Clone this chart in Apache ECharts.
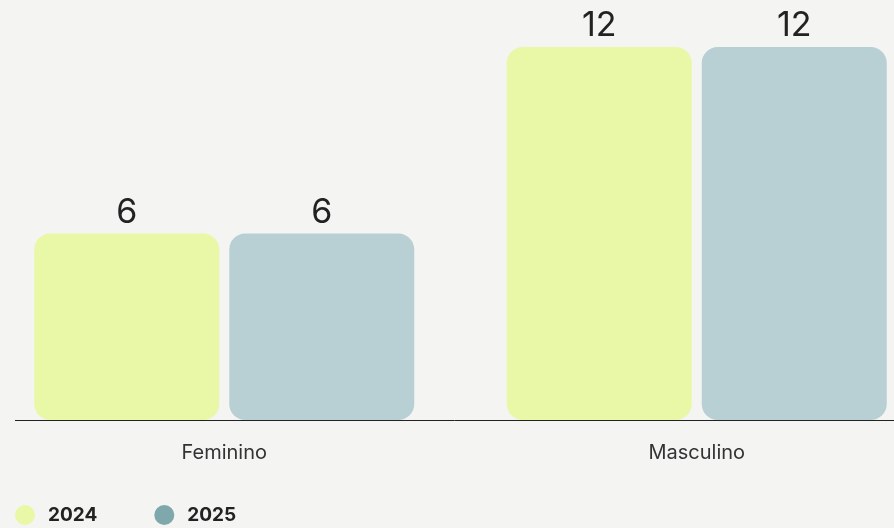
<!DOCTYPE html>
<html>
<head>
<meta charset="utf-8">
<script src="https://cdn.jsdelivr.net/npm/echarts@6/dist/echarts.min.js"></script>
<style>
  html, body { margin: 0; padding: 0; background: #f4f4f3; }
  #chart { width: 894px; height: 528px; }
</style>
</head>
<body>
<div id="chart"></div>
<script>
const categories = ['Feminino', 'Masculino']
const seriesNames = ['2024', '2025']
const values2024 = [6, 12]
const values2025 = [6, 12]

const barColors = ['#e9f8a6', '#b8d0d4']
const legendColors = ['#e9f8a6', '#7fa8ac']

const myChart = echarts.init(document.getElementById('chart'))

function makeSeries(name, data, idx) {
  return {
    name: name,
    type: 'bar',
    data: data,
    barWidth: 185,
    barGap: '5.4%',
    itemStyle: {
      color: barColors[idx],
      borderRadius: 16,
    },
    label: {
      show: true,
      position: 'top',
      distance: 4,
      fontFamily: 'Inter',
      fontSize: 34,
      color: '#222',
    },
  }
}

const option = {
  backgroundColor: '#f4f4f3',
  animation: false,
  grid: {
    left: -12,
    right: -39,
    top: 47,
    bottom: 108,
    outerBoundsMode: 'none',
    containLabel: false,
  },
  legend: {
    left: 10,
    top: 500,
    icon: 'circle',
    itemWidth: 20,
    itemHeight: 20,
    itemGap: 57,
    textStyle: {
      fontFamily: 'Inter',
      fontWeight: 'bold',
      fontSize: 19,
      color: '#222',
      padding: [0, 0, 0, 8],
    },
    data: seriesNames.map((n, i) => ({ name: n, itemStyle: { color: legendColors[i] } })),
  },
  xAxis: {
    type: 'category',
    data: categories,
    axisLine: { show: false },
    axisTick: { show: false },
    axisLabel: {
      margin: 23,
      fontFamily: 'Inter',
      fontSize: 20,
      color: '#333',
    },
  },
  yAxis: {
    type: 'value',
    min: 0,
    max: 12,
    show: false,
  },
  graphic: [
    {
      type: 'line',
      shape: { x1: 15, y1: 420.5, x2: 894, y2: 420.5 },
      style: { stroke: '#222', lineWidth: 1 },
    },
  ],
  series: [
    makeSeries(seriesNames[0], values2024, 0),
    makeSeries(seriesNames[1], values2025, 1),
  ],
}
myChart.setOption(option)
</script>
</body>
</html>
